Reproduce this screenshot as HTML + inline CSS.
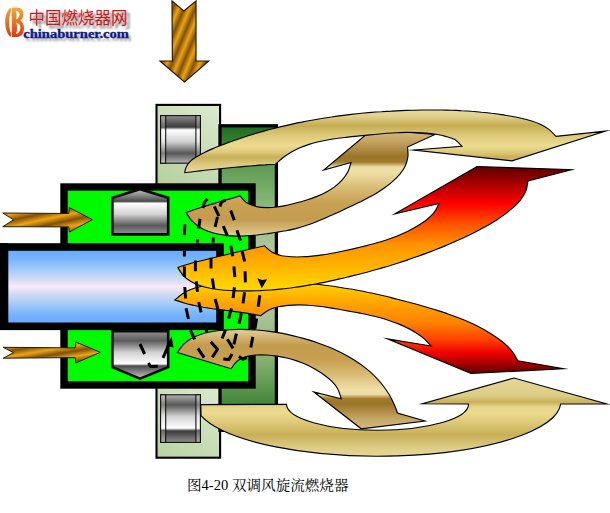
<!DOCTYPE html>
<html><head><meta charset="utf-8"><title>Fig 4-20</title>
<style>
html,body{margin:0;padding:0;background:#fff;}
body{width:610px;height:513px;overflow:hidden;font-family:"Liberation Sans",sans-serif;}
svg{display:block}
</style></head><body>
<svg width="610" height="513" viewBox="0 0 610 513">
<defs>
<linearGradient id="gO1" gradientUnits="userSpaceOnUse" x1="0" y1="110" x2="0" y2="173">
<stop offset="0" stop-color="#e6dc9e"/><stop offset=".10" stop-color="#e0d08c"/><stop offset=".245" stop-color="#c6ad54"/><stop offset=".40" stop-color="#dcc878"/><stop offset=".56" stop-color="#ecdc90"/><stop offset=".66" stop-color="#e0cc7c"/><stop offset=".75" stop-color="#c8b05a"/><stop offset=".86" stop-color="#dcc880"/><stop offset="1" stop-color="#e8d898"/>
</linearGradient>
<linearGradient id="gO2" gradientUnits="userSpaceOnUse" x1="0" y1="458" x2="0" y2="378">
<stop offset="0" stop-color="#e6da98"/><stop offset=".10" stop-color="#e0d08c"/><stop offset=".29" stop-color="#c9b058"/><stop offset=".44" stop-color="#dcc878"/><stop offset=".5675" stop-color="#ecdc90"/><stop offset=".6375" stop-color="#e6d48a"/><stop offset=".70" stop-color="#c8b058"/><stop offset=".775" stop-color="#dccc84"/><stop offset="1" stop-color="#e4d898"/>
</linearGradient>
<linearGradient id="gI1" gradientUnits="userSpaceOnUse" x1="0" y1="129" x2="0" y2="236">
<stop offset="0" stop-color="#d4bc84"/><stop offset=".10" stop-color="#c8a868"/><stop offset=".26" stop-color="#9a7428"/><stop offset=".31" stop-color="#a27c2e"/><stop offset=".355" stop-color="#ecdca4"/><stop offset=".40" stop-color="#f0e0a8"/><stop offset=".55" stop-color="#d8bc74"/><stop offset=".70" stop-color="#c8a050"/><stop offset=".85" stop-color="#c49c50"/><stop offset="1" stop-color="#e2cc94"/>
</linearGradient>
<linearGradient id="gI2" gradientUnits="userSpaceOnUse" x1="0" y1="429.5" x2="0" y2="330">
<stop offset="0" stop-color="#d4bc84"/><stop offset=".10" stop-color="#c8a868"/><stop offset=".26" stop-color="#9a7428"/><stop offset=".31" stop-color="#a27c2e"/><stop offset=".355" stop-color="#ecdca4"/><stop offset=".40" stop-color="#f0e0a8"/><stop offset=".55" stop-color="#d8bc74"/><stop offset=".70" stop-color="#c8a050"/><stop offset=".85" stop-color="#c49c50"/><stop offset="1" stop-color="#e2cc94"/>
</linearGradient>
<linearGradient id="gF1" gradientUnits="userSpaceOnUse" x1="0" y1="166" x2="0" y2="291">
<stop offset="0" stop-color="#5a0000"/><stop offset=".30" stop-color="#ff0000"/><stop offset=".46" stop-color="#ff5000"/><stop offset=".64" stop-color="#ff9600"/><stop offset=".80" stop-color="#ffb200"/><stop offset=".91" stop-color="#ffca00"/><stop offset="1" stop-color="#ffd800"/>
</linearGradient>
<linearGradient id="gF2" gradientUnits="userSpaceOnUse" x1="0" y1="374" x2="0" y2="282">
<stop offset="0" stop-color="#5a0000"/><stop offset=".23" stop-color="#f00000"/><stop offset=".37" stop-color="#ff4000"/><stop offset=".55" stop-color="#ff8000"/><stop offset=".78" stop-color="#ffa600"/><stop offset=".89" stop-color="#ffbe00"/><stop offset="1" stop-color="#ffd000"/>
</linearGradient>
<linearGradient id="gLG" gradientUnits="userSpaceOnUse" x1="218" y1="106" x2="158" y2="186">
<stop offset="0" stop-color="#dce9ce"/><stop offset="1" stop-color="#b5cf9d"/>
</linearGradient>
<linearGradient id="gLG2" gradientUnits="userSpaceOnUse" x1="218" y1="386" x2="158" y2="458">
<stop offset="0" stop-color="#dce9ce"/><stop offset="1" stop-color="#b9d2a2"/>
</linearGradient>
<linearGradient id="gDG" gradientUnits="userSpaceOnUse" x1="0" y1="126" x2="0" y2="430">
<stop offset="0" stop-color="#1c6c1c"/><stop offset=".13" stop-color="#5f9a55"/><stop offset=".26" stop-color="#8ab878"/><stop offset=".42" stop-color="#b2c8a2"/><stop offset=".58" stop-color="#b2c8a2"/><stop offset=".77" stop-color="#88b070"/><stop offset=".9" stop-color="#4a8a40"/><stop offset="1" stop-color="#1c6c1c"/>
</linearGradient>
<linearGradient id="gBlue" x1="0" y1="0" x2="0" y2="1">
<stop offset="0" stop-color="#60a6ff"/><stop offset=".15" stop-color="#78b4fc"/><stop offset=".3" stop-color="#a8cef6"/><stop offset=".42" stop-color="#d8dcf4"/><stop offset=".5" stop-color="#fbe9fb"/><stop offset=".58" stop-color="#d8dcf4"/><stop offset=".7" stop-color="#a8cef6"/><stop offset=".85" stop-color="#78b4fc"/><stop offset="1" stop-color="#60a6ff"/>
</linearGradient>
<linearGradient id="gR1" x1="0" y1="0" x2="0" y2="1">
<stop offset="0" stop-color="#8e8e8e"/><stop offset=".24" stop-color="#3a3a3a"/><stop offset=".30" stop-color="#ffffff"/><stop offset=".55" stop-color="#d0d0d0"/><stop offset=".79" stop-color="#575757"/><stop offset="1" stop-color="#b2b2b2"/>
</linearGradient>
<linearGradient id="gR2" x1="0" y1="1" x2="0" y2="0">
<stop offset="0" stop-color="#8e8e8e"/><stop offset=".24" stop-color="#3a3a3a"/><stop offset=".30" stop-color="#ffffff"/><stop offset=".55" stop-color="#d0d0d0"/><stop offset=".79" stop-color="#575757"/><stop offset="1" stop-color="#b2b2b2"/>
</linearGradient>
<linearGradient id="gC1" x1="0" y1="0" x2="0" y2="1">
<stop offset="0" stop-color="#aaaaaa"/><stop offset=".25" stop-color="#6a6a6a"/><stop offset=".30" stop-color="#ffffff"/><stop offset=".55" stop-color="#e4e4e4"/><stop offset=".79" stop-color="#808080"/><stop offset="1" stop-color="#c4c4c4"/>
</linearGradient>
<linearGradient id="gC2" x1="0" y1="1" x2="0" y2="0">
<stop offset="0" stop-color="#aaaaaa"/><stop offset=".25" stop-color="#6a6a6a"/><stop offset=".30" stop-color="#ffffff"/><stop offset=".55" stop-color="#e4e4e4"/><stop offset=".79" stop-color="#808080"/><stop offset="1" stop-color="#c4c4c4"/>
</linearGradient>
<linearGradient id="gPr1" gradientUnits="userSpaceOnUse" x1="0" y1="189" x2="0" y2="202">
<stop offset="0" stop-color="#c8c8c8"/><stop offset="1" stop-color="#4e4e4e"/>
</linearGradient>
<linearGradient id="gPc1" gradientUnits="userSpaceOnUse" x1="0" y1="201.6" x2="0" y2="234.4">
<stop offset="0" stop-color="#ffffff"/><stop offset=".35" stop-color="#d4d4d4"/><stop offset=".82" stop-color="#5c5c5c"/><stop offset="1" stop-color="#8e8e8e"/>
</linearGradient>
<linearGradient id="gPr2" gradientUnits="userSpaceOnUse" x1="0" y1="378.6" x2="0" y2="364">
<stop offset="0" stop-color="#c8c8c8"/><stop offset="1" stop-color="#4e4e4e"/>
</linearGradient>
<linearGradient id="gPc2" gradientUnits="userSpaceOnUse" x1="0" y1="364" x2="0" y2="331">
<stop offset="0" stop-color="#ffffff"/><stop offset=".35" stop-color="#d4d4d4"/><stop offset=".82" stop-color="#5c5c5c"/><stop offset="1" stop-color="#8e8e8e"/>
</linearGradient>
<linearGradient id="gPn1" x1="0" y1="0" x2="0" y2="1">
<stop offset="0" stop-color="#c6c6c6"/><stop offset=".27" stop-color="#4a4a4a"/><stop offset=".31" stop-color="#ffffff"/><stop offset=".55" stop-color="#d2d2d2"/><stop offset=".80" stop-color="#5a5a5a"/><stop offset="1" stop-color="#929292"/>
</linearGradient>
<linearGradient id="gPn2" x1="0" y1="1" x2="0" y2="0">
<stop offset="0" stop-color="#c6c6c6"/><stop offset=".27" stop-color="#4a4a4a"/><stop offset=".31" stop-color="#ffffff"/><stop offset=".55" stop-color="#d2d2d2"/><stop offset=".80" stop-color="#5a5a5a"/><stop offset="1" stop-color="#929292"/>
</linearGradient>
<linearGradient id="gGold" gradientUnits="userSpaceOnUse" x1="0" y1="0" x2="4.7" y2="1.96" spreadMethod="reflect">
<stop offset="0" stop-color="#80500a"/><stop offset="1" stop-color="#eca412"/>
</linearGradient>
<linearGradient id="gGoldH" gradientUnits="userSpaceOnUse" x1="37.5" y1="214.7" x2="38.8" y2="220.7" spreadMethod="reflect">
<stop offset="0" stop-color="#80500a"/><stop offset="1" stop-color="#eca412"/>
</linearGradient>
<linearGradient id="gGoldH2" gradientUnits="userSpaceOnUse" x1="34.1" y1="347" x2="35" y2="352.3" spreadMethod="reflect">
<stop offset="0" stop-color="#80500a"/><stop offset="1" stop-color="#eca412"/>
</linearGradient>
<linearGradient id="gLogo" x1="0" y1="0" x2="0" y2="1">
<stop offset="0" stop-color="#f6a838"/><stop offset="1" stop-color="#dc3a10"/>
</linearGradient>
<filter id="blur1" x="-20%" y="-50%" width="140%" height="200%"><feGaussianBlur stdDeviation="1.3"/></filter>
</defs>
<rect width="610" height="513" fill="#fff"/>

<!-- light green plate -->
<rect x="156.5" y="104.9" width="63.6" height="180" fill="url(#gLG)"/><rect x="156.5" y="284" width="63.6" height="173.7" fill="url(#gLG2)"/><rect x="156.5" y="104.9" width="63.6" height="352.8" fill="none" stroke="#000" stroke-width="2.1"/>
<!-- dark green plate -->
<rect x="220" y="125.8" width="56.4" height="304.5" fill="url(#gDG)" stroke="#000" stroke-width="3.3"/>
<!-- rollers -->
<g stroke="#111" stroke-width="1.1">
<rect x="160.6" y="115.6" width="39.8" height="47.6" fill="url(#gR1)"/>
<rect x="160.6" y="115.6" width="5.1" height="47.6" fill="url(#gC1)"/><rect x="195.9" y="115.6" width="4.5" height="47.6" fill="url(#gC1)"/>
<rect x="160.6" y="394.8" width="39.8" height="47.6" fill="url(#gR2)"/>
<rect x="160.6" y="394.8" width="5.1" height="47.6" fill="url(#gC2)"/><rect x="195.9" y="394.8" width="4.5" height="47.6" fill="url(#gC2)"/>
</g>
<!-- bright green box -->
<rect x="64" y="187" width="188" height="198" fill="#00fb00" stroke="#000" stroke-width="7.4"/>
<!-- blue tube -->
<rect x="-4" y="247" width="224" height="79.3" fill="url(#gBlue)" stroke="#000" stroke-width="7.6"/>
<rect x="-10" y="243.2" width="18.3" height="86.8" fill="#000"/>
<!-- pentagons -->
<path d="M112.4 234.4V197.8L140 189.2L168.2 197.8V234.4Z" fill="url(#gPn1)" stroke="#0a0a0a" stroke-width="2.6" stroke-linejoin="miter"/>
<path d="M112.4 331.2V367.2L140 378.6L168.2 367.2V331.2Z" fill="url(#gPn2)" stroke="#0a0a0a" stroke-width="2.6" stroke-linejoin="miter"/>

<!-- small left arrows -->
<path d="M2.7 213L68.8 213.5L69.4 207.6L92.3 219.6L69.4 232.1L68.8 226.9L2.7 226.7L13.6 219.8Z" fill="url(#gGoldH)" stroke="#2a1a00" stroke-width="1"/>
<path d="M3.2 347.3L75.4 347.9L75.7 341.9L100.3 352.3L75.7 363L75.4 357.6L3.2 358.2L13.5 352.7Z" fill="url(#gGoldH2)" stroke="#2a1a00" stroke-width="1"/>
<!-- top down arrow -->
<path d="M172 1L183.8 11L196 1V61H208.7L184.5 82L160 61H172.4Z" fill="url(#gGold)" stroke="#2a1a00" stroke-width="1.2"/>

<!-- arrows -->
<g stroke="#000" stroke-width="1.15" stroke-linejoin="miter" stroke-miterlimit="12">
<path d="M186.1 212.6C188.4 211.8 194.3 209.6 200 207.8C205.7 206 213.3 203.8 220 201.8C226.7 199.8 236.7 197 240 196C241.2 197.2 244.3 201.4 247.1 203.1C249.9 204.9 253.4 205.8 256.7 206.6C259.9 207.3 263.4 207.5 266.8 207.6C270.2 207.7 273.6 207.4 276.9 207C280.3 206.6 283.6 205.9 287 205.2C290.3 204.5 293.6 203.7 296.9 202.8C300.2 202 303.4 201.1 306.7 200C309.9 199 313.1 197.9 316.3 196.6C319.4 195.4 322.6 194 325.5 192.4C328.5 190.8 331.5 189.1 334.2 187.1C336.9 185 339.6 182.8 341.8 180.3C344.1 177.8 346.3 175.1 347.8 172.1C349.4 169.2 350.5 164.1 351 162.5L323.8 170L372.1 129.5L435 134.5L407.5 147C407.6 148.6 408.3 153.6 407.9 156.8C407.5 160 406.5 163.3 405.1 166.2C403.7 169.1 401.7 171.9 399.7 174.4C397.6 176.9 395.2 179.2 392.7 181.4C390.3 183.6 387.7 185.6 385 187.5C382.4 189.5 379.6 191.2 376.8 192.9C374 194.7 371.1 196.2 368.2 197.8C365.3 199.4 362.4 200.8 359.4 202.3C356.5 203.7 353.5 205.1 350.5 206.5C347.5 207.9 344.6 209.3 341.6 210.7C338.6 212 335.6 213.4 332.6 214.8C329.6 216.1 326.6 217.5 323.6 218.8C320.6 220.1 317.6 221.3 314.5 222.5C311.4 223.7 308.3 224.8 305.2 225.8C302.1 226.8 298.9 227.7 295.7 228.6C292.5 229.4 289.3 230.1 286.1 230.7C282.9 231.3 279.6 231.8 276.4 232.3C273.1 232.9 269.9 233.3 266.6 233.8C263.4 234.2 260.1 234.6 256.8 235C253.6 235.3 250.3 235.6 247 235.8C243.7 236 240.5 236.1 237.2 236.1C233.9 236 230.6 235.9 227.3 235.6C224.1 235.2 220.8 234.7 217.6 234C214.4 233.3 211.2 232.4 208.1 231.3C205.1 230.1 202 228.7 199.3 226.9C196.6 225.1 193.9 223.1 191.7 220.7C189.5 218.3 187 213.9 186.1 212.6Z" fill="url(#gI1)"/>
<path d="M184.8 172.7C184.9 172 185.1 170 185.6 168.6C186.1 167.2 186.9 165.7 187.8 164.3C188.7 162.9 189.9 161.6 191.2 160.4C192.5 159.2 193.4 158.6 195.7 157.2C198 155.8 201.7 153.8 205 152.2C208.3 150.6 213.7 148.3 215.4 147.5C217 146.9 221.6 145.1 224.8 143.9C227.9 142.7 231 141.6 234.2 140.5C237.3 139.4 240.5 138.3 243.7 137.3C246.9 136.2 250 135.2 253.2 134.2C256.4 133.3 259.7 132.3 262.9 131.4C266.1 130.5 269.3 129.6 272.6 128.8C275.8 128 279 127.2 282.3 126.4C285.5 125.6 288.8 124.9 292.1 124.1C295.3 123.4 298.6 122.7 301.9 122.1C305.1 121.4 308.4 120.8 311.7 120.2C315 119.6 318.3 119 321.6 118.5C324.9 117.9 328.2 117.4 331.5 117C334.8 116.5 338.1 116 341.4 115.6C344.8 115.2 348.1 114.8 351.4 114.4C354.7 114 358.1 113.6 361.4 113.3C364.7 113 368 112.7 371.4 112.4C374.7 112.1 378 111.9 381.4 111.7C384.7 111.4 388 111.2 391.4 111.1C394.7 110.9 398.1 110.7 401.4 110.6C404.7 110.5 408.1 110.3 411.4 110.2C414.8 110.2 418.1 110.1 421.4 110C424.8 110 428.1 110 431.5 110C434.8 109.9 438.2 110 441.5 110C444.8 110.1 448.2 110.1 451.5 110.2C454.9 110.4 458.2 110.5 461.5 110.7C464.9 110.8 468.2 111 471.6 111.3C474.9 111.5 478.2 111.8 481.5 112.2C484.9 112.5 488.2 112.8 491.5 113.3C494.8 113.7 498.1 114.1 501.4 114.6C504.7 115.2 508 115.7 511.3 116.3C514.6 116.9 517.9 117.6 521.2 118.3C524.4 119 527.7 119.8 530.9 120.8C534.1 121.8 537.3 122.8 540.3 124.3C543.3 125.7 546.2 127.4 548.9 129.4C551.5 131.4 554.8 135.2 556 136.4L605 131.2L512 160.8L413.8 150L461.8 146.2C460.6 145.1 457.6 141.2 454.9 139.6C452.2 137.9 448.7 137.2 445.6 136.4C442.4 135.5 439.2 134.9 435.9 134.3C432.7 133.8 429.4 133.4 426.2 133.1C422.9 132.8 419.6 132.6 416.4 132.5C413.1 132.4 409.8 132.4 406.5 132.4C403.2 132.4 400 132.6 396.7 132.7C393.4 132.9 390.1 133.1 386.9 133.3C383.6 133.6 380.3 133.9 377.1 134.2C373.8 134.5 370.5 134.8 367.3 135.1C364 135.4 360.7 135.8 357.5 136.1C354.2 136.4 350.9 136.7 347.7 137.1C344.4 137.5 341.2 137.8 337.9 138.3C334.7 138.7 331.4 139.2 328.2 139.8C325 140.4 321.7 141 318.5 141.8C315.4 142.6 312.2 143.4 309.1 144.4C305.9 145.4 302.8 146.5 299.8 147.8C296.8 149.1 293.9 150.6 291 152.2C288.2 153.9 285.4 155.7 282.9 157.7C280.3 159.7 276.7 163.1 275.5 164.2C273.8 164.3 268.8 164.6 265.4 164.9C262 165.1 258.7 165.3 255.3 165.6C251.9 165.9 248.6 166.1 245.2 166.4C241.8 166.7 238.5 167 235.1 167.3C231.8 167.6 228.4 167.9 225 168.2C221.7 168.5 218.3 168.9 215 169.2C211.6 169.6 208.3 169.9 204.9 170.3C201.5 170.7 198.2 171.1 194.8 171.5C191.5 171.9 186.5 172.5 184.8 172.7Z" fill="url(#gO1)"/>
<path d="M174.9 300C176.2 299 179.8 295.5 182.6 293.7C185.3 291.9 188.3 290.5 191.4 289.3C194.4 288 197.7 287.2 200.9 286.4C204.1 285.7 207.4 285.2 210.7 284.8C213.9 284.3 217.2 284 220.5 283.6C223.8 283.3 227.1 283 230.4 282.7C233.7 282.4 237 282.2 240.3 282C243.6 281.9 246.9 281.7 250.2 281.6C253.5 281.5 256.8 281.4 260.1 281.4C263.4 281.3 266.7 281.4 270 281.4C273.3 281.4 276.6 281.5 279.9 281.6C283.2 281.7 286.5 281.9 289.8 282C293.1 282.2 296.4 282.4 299.7 282.7C303 282.9 306.3 283.2 309.6 283.5C312.9 283.8 316.2 284.1 319.5 284.5C322.8 284.9 326 285.3 329.3 285.8C332.6 286.2 335.9 286.7 339.1 287.2C342.4 287.7 345.7 288.2 348.9 288.8C352.2 289.3 355.4 289.9 358.7 290.5C361.9 291.1 365.2 291.8 368.4 292.5C371.6 293.1 374.9 293.8 378.1 294.5C381.3 295.3 384.5 296 387.8 296.8C391 297.6 394.2 298.3 397.4 299.2C400.6 300 403.8 300.8 407 301.7C410.2 302.5 413.4 303.4 416.6 304.3C419.7 305.2 422.9 306.1 426.1 307C429.3 307.9 432.4 308.9 435.6 309.9C438.7 310.8 441.9 311.8 445 312.9C448.2 314 451.3 315 454.4 316.2C457.5 317.4 460.6 318.5 463.6 319.8C466.7 321.1 469.7 322.4 472.7 323.8C475.7 325.2 478.6 326.7 481.5 328.3C484.4 329.8 487.3 331.5 490.1 333.2C492.9 335 495.7 336.8 498.4 338.8C501 340.7 503.7 342.7 506.1 345C508.5 347.2 510.8 349.6 512.8 352.3C514.7 354.9 517 359.4 517.8 360.8L563.5 368.8L471 373.5L387.5 338.9L431 346C429.8 344.8 426.6 340.8 424.1 338.6C421.6 336.4 418.7 334.5 415.9 332.7C413.1 330.8 410.1 329.3 407 327.7C404 326.2 400.9 324.9 397.8 323.6C394.7 322.4 391.5 321.2 388.2 320.2C385 319.1 381.8 318.2 378.5 317.3C375.3 316.5 372 315.7 368.7 315C365.4 314.2 362.1 313.6 358.7 312.9C355.4 312.3 352.1 311.7 348.8 311.1C345.5 310.5 342.1 309.9 338.8 309.3C335.5 308.7 332.1 308.1 328.8 307.6C325.5 307.1 322.1 306.6 318.8 306.2C315.4 305.8 312 305.5 308.7 305.3C305.3 305 301.9 304.9 298.6 304.9C295.2 304.9 291.8 305 288.4 305.4C285.1 305.7 281.7 306 278.4 306.8C275.1 307.6 271.8 308.5 268.8 310C265.8 311.4 261.9 314.7 260.5 315.7C258.9 315.4 254.2 314.4 251 313.9C247.8 313.3 244.6 312.8 241.4 312.4C238.2 311.9 235 311.5 231.8 311.1C228.6 310.7 225.4 310.3 222.2 309.9C219 309.5 215.8 309.1 212.6 308.7C209.4 308.2 206.2 307.7 203 307.2C199.8 306.6 196.7 306 193.5 305.3C190.4 304.6 187.2 303.9 184.1 303C181 302.1 176.4 300.5 174.9 300Z" fill="url(#gF2)"/>
<path d="M177.9 267.5C179.9 266.9 181.8 265.8 189.7 263.7C197.5 261.6 212.5 258 225 255C237.5 252 257.9 247.3 264.5 245.8C265.8 246.9 269.4 250.6 272.3 252.3C275.1 253.9 278.5 254.9 281.8 255.7C285 256.4 288.5 256.6 291.8 256.8C295.2 257 298.6 257 302 256.8C305.4 256.7 308.7 256.5 312.1 256.1C315.5 255.8 318.8 255.4 322.2 254.9C325.5 254.4 328.9 253.8 332.2 253.2C335.5 252.6 338.8 251.9 342.1 251.2C345.5 250.5 348.8 249.8 352.1 249.1C355.4 248.4 358.7 247.6 362 246.8C365.2 246 368.5 245.2 371.8 244.3C375.1 243.4 378.3 242.5 381.5 241.5C384.8 240.5 388 239.4 391.2 238.3C394.3 237.1 397.5 235.9 400.6 234.5C403.7 233.2 406.8 231.8 409.8 230.2C412.8 228.6 415.7 227 418.6 225.2C421.5 223.4 424.4 221.6 427 219.5C429.6 217.3 432.2 215 434.2 212.4C436.2 209.7 438.2 205 439 203.5L395 213.8L477 166.5L571.5 169.8L528 181C527.7 182.6 527.1 187.7 525.9 190.8C524.8 193.8 522.9 196.8 520.9 199.4C519 202.1 516.5 204.4 514.1 206.7C511.7 209 509 211 506.3 213.1C503.7 215.1 500.9 217 498.2 218.9C495.4 220.7 492.5 222.5 489.7 224.2C486.8 225.9 483.9 227.5 480.9 229.1C478 230.7 475 232.2 472 233.7C469 235.2 466 236.6 463 238C459.9 239.4 456.9 240.8 453.8 242.1C450.8 243.5 447.7 244.8 444.6 246.1C441.5 247.4 438.4 248.6 435.3 249.8C432.2 251.1 429.1 252.3 426 253.4C422.8 254.6 419.7 255.7 416.6 256.8C413.4 258 410.2 259 407.1 260.1C403.9 261.2 400.7 262.2 397.5 263.2C394.4 264.2 391.2 265.2 388 266.2C384.8 267.1 381.6 268.1 378.3 269C375.1 269.9 371.9 270.8 368.7 271.7C365.5 272.5 362.2 273.4 359 274.2C355.8 275 352.5 275.8 349.3 276.6C346 277.4 342.8 278.2 339.5 278.9C336.3 279.7 333 280.4 329.7 281.1C326.5 281.8 323.2 282.5 319.9 283.1C316.6 283.7 313.3 284.4 310 284.9C306.8 285.5 303.5 286.1 300.2 286.6C296.9 287.1 293.5 287.5 290.2 288C286.9 288.4 283.6 288.8 280.3 289.1C276.9 289.5 273.6 289.8 270.3 290C267 290.2 263.6 290.4 260.3 290.6C256.9 290.7 253.6 290.8 250.3 290.9C246.9 290.9 243.6 290.9 240.2 290.8C236.9 290.8 233.6 290.6 230.2 290.5C226.9 290.3 223.5 290.1 220.2 289.7C216.9 289.3 213.6 288.9 210.3 288.3C207 287.6 203.7 286.9 200.6 285.8C197.5 284.7 194.3 283.5 191.4 281.8C188.6 280.1 185.7 278.2 183.5 275.8C181.2 273.4 178.8 268.9 177.9 267.5Z" fill="url(#gF1)"/>
<path d="M177.3 352.5C178.3 351.2 181 346.9 183.3 344.6C185.6 342.2 188.4 340.2 191.2 338.5C194.1 336.8 197.2 335.6 200.3 334.5C203.5 333.4 206.7 332.6 210 332C213.2 331.3 216.6 330.9 219.9 330.5C223.2 330.1 226.5 329.9 229.8 329.7C233.1 329.5 236.5 329.4 239.8 329.4C243.1 329.4 246.5 329.4 249.8 329.6C253.1 329.7 256.4 329.9 259.7 330.2C263.1 330.5 266.4 330.9 269.7 331.4C273 331.8 276.3 332.3 279.5 332.9C282.8 333.5 286.1 334.2 289.3 334.9C292.6 335.6 295.8 336.4 299 337.2C302.2 338.1 305.5 339 308.6 339.9C311.8 340.9 315 341.9 318.1 343C321.3 344.1 324.4 345.3 327.5 346.5C330.6 347.7 333.6 349.1 336.7 350.5C339.7 351.9 342.7 353.4 345.6 354.9C348.5 356.5 351.4 358.2 354.2 360C357 361.8 359.8 363.6 362.4 365.6C365.1 367.6 367.7 369.7 370.2 371.9C372.7 374.1 375.1 376.5 377.3 378.9C379.6 381.3 381.7 383.9 383.7 386.5C385.7 389.2 387.6 392 389.3 394.8C391 397.7 392.5 400.7 393.9 403.7C395.3 406.7 396.9 411.4 397.5 413L425 421L361.2 428.8L313.8 392L341.2 398.8C340.7 397.2 339.5 392.1 337.9 389.2C336.4 386.2 334 383.6 331.7 381.2C329.3 378.8 326.6 376.7 323.8 374.7C321.1 372.7 318.2 370.9 315.2 369.2C312.3 367.6 309.2 366 306.2 364.6C303.1 363.2 299.9 362 296.7 360.9C293.5 359.8 290.2 358.8 286.9 358C283.6 357.2 280.3 356.6 276.9 356.1C273.5 355.6 270.2 355.2 266.8 355C263.4 354.8 260 354.7 256.6 355C253.2 355.2 249.7 355.6 246.5 356.6C243.3 357.5 240 358.8 237.4 360.9C234.8 362.9 232.1 367.4 231 368.7L177.3 352.5Z" fill="url(#gI2)"/>
<path d="M200.8 404.6L286.5 404.3A91 26.1 0 0 0 468.5 404L422.5 403.8L514 378L607 404L560.7 404A183.1 54.7 0 0 1 201 415.7Z" fill="url(#gO2)"/>
</g>

<!-- dashed swirl lines -->
<path d="M184.8 224.4L184.4 235.1M184.4 250.8L184.4 256.6M184.4 266.4L184.4 277.1M184.8 287L185.6 298.5M186.1 308.3L188.4 319M190.5 330.3L194.6 339.3M197.9 348.4L204.1 357.7M207.4 199L204.4 202.3L202.8 208M200 218.7L198.7 228.5M197.4 239.2L197.4 242.5M195.4 260.4L195.4 271.3M196.2 281.2L197.5 291.9M198.7 302L201.1 312.4M203.6 323L206.9 332M210.7 341.8L217.5 349.2L212.3 357.4M225.7 200.2L221.6 201.8L220 206.4M214.3 206.4L218.9 216.2M217.5 217L215.1 226.9M213.4 237.5L213.1 242.5M211 257.7L211 268.4M212.3 278.5L213.9 289M215.1 298.8L217.9 309.1M230.7 210.5L234.3 220.3M223.3 226L227.4 235.9M230.7 245.8L232.8 256.2M233.9 266.4L234.8 277.1M234.4 287.3L233.1 298.1M231.5 308.3L228.5 318.7M225.7 329.5L222.1 338.5M236.9 230.2L240.5 240.8M242.1 250.8L244.6 261.5M245.1 271.3L245.4 282.4M244.6 292.2L243 303.4M241.3 313.2L239 323.9M236.4 333.6L233.9 344.3M227.4 339.3L233.1 348.4M223.3 359L229 359.5L232 354M259.8 295.2L258.2 306.7M256.6 318.6L255 328.5M252.8 336.9L250.8 347.5M238.9 356.6L243 359.2L247 357.5M140 344L144.6 354M148.5 363L150.5 366.6L157.7 366.3M163 357.8L168.2 346" fill="none" stroke="#000" stroke-width="3" stroke-linejoin="round"/>
<path d="M257.2 278.3L262 280L267.1 279.3L261.8 288.2Z" fill="#000"/>
<path d="M166.2 346L171.6 336.5L173.6 347.6Z" fill="#000"/>

<!-- LOGO -->
<g id="logo-cn" font-family="'Liberation Sans','Noto Sans CJK SC',sans-serif" font-size="16.5"><text x="28.4" y="23.5" textLength="99" lengthAdjust="spacingAndGlyphs" fill="#505050" opacity=".8" transform="translate(3.4 3.4)" filter="url(#blur1)">中国燃烧器网</text><text x="28.4" y="23.5" textLength="99" lengthAdjust="spacingAndGlyphs" fill="#d21414">中国燃烧器网</text></g>
<text id="caption" x="187" y="489.8" font-family="'Liberation Serif','Noto Serif CJK SC',serif" font-size="14" textLength="161.5" lengthAdjust="spacingAndGlyphs" fill="#000">图4-20 双调风旋流燃烧器</text>
<g font-family="'Liberation Serif',serif" font-weight="bold" font-size="13.4">
<text x="25.4" y="40.6" textLength="106" lengthAdjust="spacingAndGlyphs" fill="#808080" opacity=".8" filter="url(#blur1)">chinaburner.com</text>
<text x="23.2" y="38" textLength="105.8" lengthAdjust="spacingAndGlyphs" fill="#0e1a88" stroke="#0e1a88" stroke-width=".35">chinaburner.com</text>
</g>
<g fill="url(#gLogo)">
<path d="M11 7.4C7.4 9.6 5.2 15.2 5.2 22C5.2 29 7.4 34.8 11 37V33.2C9.8 30.6 9.2 26.6 9.2 22C9.2 17.6 9.8 13.8 11 11.2Z"/>
<path d="M11.8 7.6H17C21.5 7.6 23.4 10.5 23.4 14C23.4 17 22.2 19.3 20.3 20.5C22.8 21.8 24 24.6 24 28C24 33.3 21.5 36.9 17 36.9H11.8ZM15.6 10.8C18.6 10.8 19.8 12.6 19.5 15C19.2 17.2 17.8 18.8 16 19.4C17 16.6 16.8 13.6 15.6 10.8ZM16.2 22.4C19.2 22.8 20.5 25.2 20.3 28.4C20.1 31.6 18.4 33.6 15.8 34C17.6 30.6 17.6 26 16.2 22.4Z" fill-rule="evenodd"/>
</g>
</svg>
</body></html>
